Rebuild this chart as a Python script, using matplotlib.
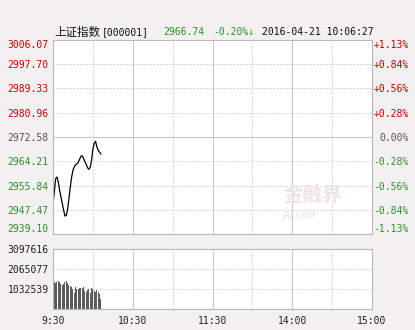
import matplotlib
matplotlib.use('Agg')
import matplotlib.pyplot as plt
import numpy as np

# price per minute from 9:30 to 10:06
minutes = list(range(37))
price = [2949.59, 2953.59, 2958.22, 2958.77, 2957.05, 2954.18, 2951.87, 2949.59,
         2947.28, 2945.31, 2945.55, 2947.62, 2951.32, 2955.32, 2958.67, 2961.08,
         2962.22, 2963.05, 2963.29, 2963.85, 2964.88, 2965.92, 2966.09, 2965.23,
         2964.02, 2963.16, 2961.95, 2961.43, 2962.12, 2964.54, 2968.33, 2970.41,
         2971.10, 2969.20, 2967.99, 2967.40, 2966.74]
volume = [3097616, 1410000, 1330000, 1380000, 1460000, 1410000, 1290000, 1250000,
          1290000, 1380000, 1460000, 1340000, 1250000, 1200000, 1150000, 1030000,
          810000, 1120000, 1030000, 1030000, 1080000, 1060000, 1080000, 1120000,
          940000, 860000, 980000, 1030000, 810000, 1080000, 1030000, 940000,
          860000, 980000, 890000, 770000, 520000]

pre_close = 2972.58
price_ticks = [3006.07, 2997.70, 2989.33, 2980.96, 2972.58, 2964.21, 2955.84, 2947.47, 2939.10]
pct_labels = ['+1.13%', '+0.84%', '+0.56%', '+0.28%', '0.00%', '-0.28%', '-0.56%', '-0.84%', '-1.13%']
vol_ticks = [3097616, 2065077, 1032539]
time_ticks = [0, 60, 120, 180, 240]
time_labels = ['9:30', '10:30', '11:30', '14:00', '15:00']

RED = '#cc0000'
GREEN = '#2f8f2f'
GREYTXT = '#555555'
FRAME = '#b8b8b8'
GRID = '#c8c8c8'
mono = ['DejaVu Sans Mono', 'Noto Sans CJK SC']

fig = plt.figure(figsize=(4.15, 3.3), dpi=100)
fig.patch.set_facecolor('#f2f0f0')

W, H = 415, 330
ax = fig.add_axes([53 / W, (H - 234) / H, 319 / W, 194 / H])
axv = fig.add_axes([53 / W, (H - 309) / H, 319 / W, 60 / H])


def tick_color(v):
    if v > pre_close + 0.001:
        return RED
    if v < pre_close - 0.001:
        return GREEN
    return GREYTXT


for a in (ax, axv):
    a.set_facecolor('white')
    for s in a.spines.values():
        s.set_color(FRAME)
        s.set_linewidth(0.8)
    a.set_xlim(0, 240)
    for m in [30, 90, 150, 210]:
        a.axvline(m, color=GRID, lw=0.6, ls=(0, (2, 2)), zorder=0)
    for m in [60, 120, 180]:
        a.axvline(m, color=GRID, lw=0.8, zorder=0)

# main price panel
ax.set_ylim(price_ticks[-1], price_ticks[0])
for v in price_ticks[1:-1]:
    if abs(v - pre_close) < 0.001:
        ax.axhline(v, color=GRID, lw=0.8, zorder=0)
    else:
        ax.axhline(v, color=GRID, lw=0.6, ls=(0, (2, 2)), zorder=0)
ax.plot(minutes, price, color='black', lw=0.9)
ax.set_xticks([])
ax.set_yticks(price_ticks)
ax.set_yticklabels(['%.2f' % v for v in price_ticks])
ax.tick_params(axis='y', length=0, pad=3)
for lab, v in zip(ax.get_yticklabels(), price_ticks):
    lab.set_color(tick_color(v))
    lab.set_family(mono)
    lab.set_fontsize(7)
ax.get_yticklabels()[0].set_va('top')
ax.get_yticklabels()[-1].set_va('bottom')

axr = ax.twinx()
axr.set_ylim(ax.get_ylim())
axr.set_yticks(price_ticks)
axr.set_yticklabels(pct_labels)
axr.tick_params(axis='y', length=0, pad=26.5)
for s in axr.spines.values():
    s.set_visible(False)
for lab, v in zip(axr.get_yticklabels(), price_ticks):
    lab.set_color(tick_color(v))
    lab.set_family(mono)
    lab.set_fontsize(7)
    lab.set_ha('right')
axr.get_yticklabels()[0].set_va('top')
axr.get_yticklabels()[-1].set_va('bottom')

# watermark
ax.text(0.815, 0.2, '金融界', transform=ax.transAxes, fontsize=14, fontweight='bold',
        family=['Noto Sans CJK SC'], color='#efe3e3', ha='center', va='center', zorder=0)
ax.text(0.77, 0.09, 'JRJ.COM', transform=ax.transAxes, fontsize=6, style='italic',
        color='#e8e2e2', ha='center', va='center', zorder=0)

# volume panel
axv.set_ylim(0, vol_ticks[0])
for v in vol_ticks[1:]:
    axv.axhline(v, color=GRID, lw=0.6, ls=(0, (2, 2)), zorder=0)
axv.bar(minutes, volume, width=0.75, color='#5c5c5c', zorder=2)
axv.set_yticks(vol_ticks)
axv.set_yticklabels([str(v) for v in vol_ticks])
axv.tick_params(axis='y', length=0, pad=3)
for lab in axv.get_yticklabels():
    lab.set_family(mono)
    lab.set_fontsize(7)
    lab.set_color('#222222')
axv.set_xticks(time_ticks)
axv.set_xticklabels(time_labels)
axv.tick_params(axis='x', length=0, pad=5)
for lab in axv.get_xticklabels():
    lab.set_family(mono)
    lab.set_fontsize(7)
    lab.set_color('#222222')

# header
hy = 1 - 32 / H
fig.text(54 / W, hy, '上证指数', family=['Noto Sans CJK SC'], fontsize=8.3,
         color='#111111', va='center')
fig.text(102 / W, hy, '[000001]', family=mono, fontsize=7,
         color='#111111', va='center')
fig.text(163 / W, hy, '2966.74', family=mono, fontsize=7,
         color=GREEN, va='center')
fig.text(213 / W, hy, '-0.20%↓', family=mono, fontsize=7,
         color=GREEN, va='center')
fig.text(262 / W, hy, '2016-04-21 10:06:27', family=mono, fontsize=7,
         color='#111111', va='center')

fig.savefig('out.png', dpi=100, facecolor=fig.get_facecolor())
